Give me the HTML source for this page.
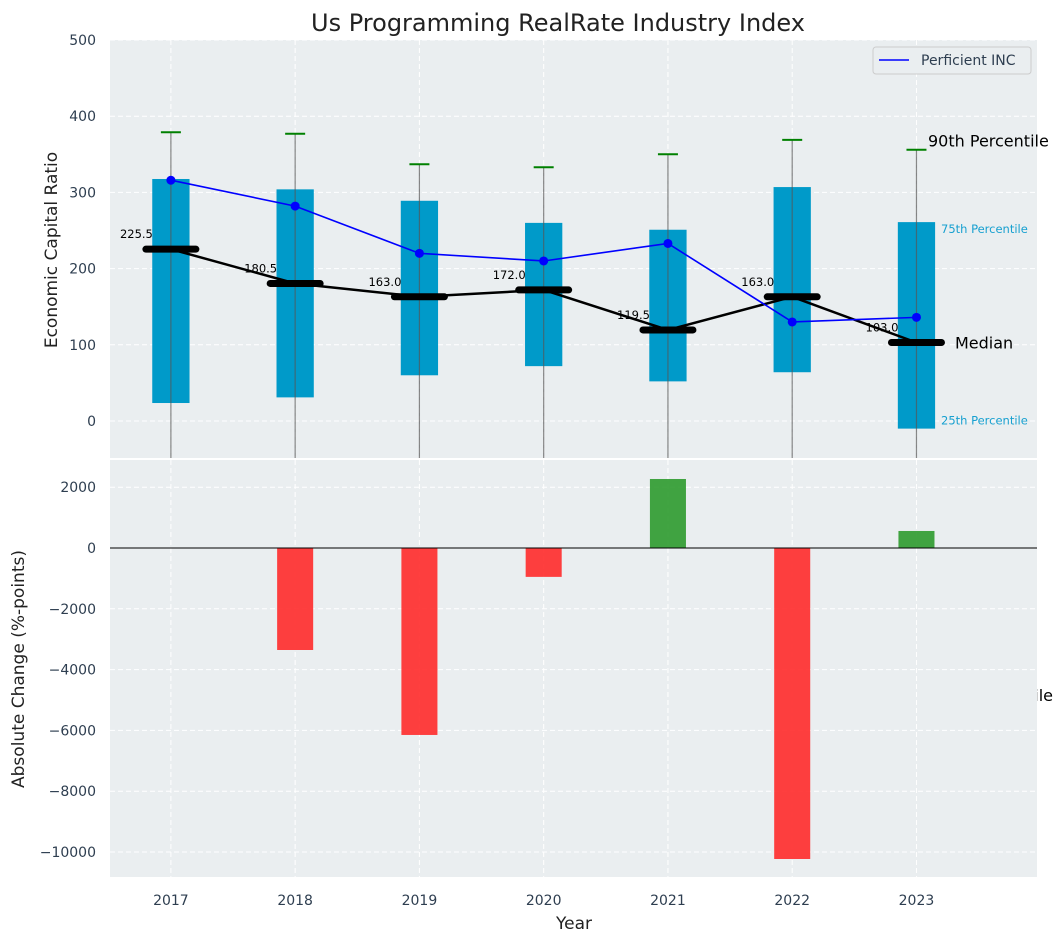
<!DOCTYPE html>
<html><head><meta charset="utf-8"><style>
body{margin:0;background:#fff;font-family:"Liberation Sans","DejaVu Sans",sans-serif}
svg{display:block}
text{font-family:"DejaVu Sans","Liberation Sans",sans-serif}
</style></head><body>
<svg id="c" width="1063" height="942"></svg>
<script>
const years=[2017,2018,2019,2020,2021,2022,2023];
const q25=[23.6,31,60,72,52,64,-10];
const q75=[317.6,304,289,260,251,307,261];
const p90=[379,377,337,333,350,369,356];
const p10=[-120,-120,-120,-120,-120,-120,-120];
const medians=[225.5,180.5,163.0,172.0,119.5,163.0,103.0];
const perficient=[316,282,220,210,233,130,136];
const changes=[0,-3355,-6150,-950,2270,-10230,560];
const topTicks=[0,100,200,300,400,500];
const botTicks=[2000,0,-2000,-4000,-6000,-8000,-10000];

const NS='http://www.w3.org/2000/svg';
const svg=document.getElementById('c');
function el(t,a,p){const e=document.createElementNS(NS,t);for(const k in a)e.setAttribute(k,a[k]);(p||svg).appendChild(e);return e;}
const L=110,R=1037;
const x=v=>L+(v-2016.51)/(2023.97-2016.51)*(R-L);
const T0=40,T1=458;const yt=v=>421-v*0.762;
const B0=460,B1=877;const yb=v=>548-v*0.0304;

const defs=el('defs',{});
const cp1=el('clipPath',{id:'ct'},defs);el('rect',{x:L,y:T0,width:R-L,height:T1-T0},cp1);
const cp2=el('clipPath',{id:'cr'},defs);el('rect',{x:R,y:0,width:100,height:942},cp2);

let r=el('rect',{x:L,y:T0,width:R-L,height:T1-T0,fill:'#eaeef0'});

r=el('rect',{x:L,y:B0,width:R-L,height:B1-B0,fill:'#eaeef0'});


years.forEach(yr=>{
  el('line',{x1:x(yr),x2:x(yr),y1:T0,y2:T1,stroke:'#fff','stroke-dasharray':'5,3','stroke-width':1});
  el('line',{x1:x(yr),x2:x(yr),y1:B0,y2:B1,stroke:'#fff','stroke-dasharray':'5,3','stroke-width':1});
  const t=el('text',{x:x(yr),y:905,'text-anchor':'middle','font-size':14,fill:'#2e3e50'});t.textContent=yr;
  
});
topTicks.forEach(v=>{
  el('line',{x1:L,x2:R,y1:yt(v),y2:yt(v),stroke:'#fff','stroke-dasharray':'5,3'});
  const t=el('text',{x:96,y:yt(v)+5,'text-anchor':'end','font-size':14,fill:'#2e3e50'});t.textContent=v;
  
});
botTicks.forEach(v=>{
  el('line',{x1:L,x2:R,y1:yb(v),y2:yb(v),stroke:'#fff','stroke-dasharray':'5,3'});
  const t=el('text',{x:96,y:yb(v)+5,'text-anchor':'end','font-size':14,fill:'#2e3e50'});t.textContent=(v<0?'\u2212'+(-v):v);
  
});

const gt=el('g',{'clip-path':'url(#ct)'});
const hw=(x(2017.15)-x(2017));
years.forEach((yr,i)=>{
  const b=el('rect',{x:x(yr)-hw,y:yt(q75[i]),width:2*hw,height:yt(q25[i])-yt(q75[i]),fill:'#009ac9'},gt);
  
  el('line',{x1:x(yr),x2:x(yr),y1:yt(p90[i]),y2:yt(p10[i]),stroke:'#555','stroke-opacity':0.7,'stroke-width':1.2},gt);
  const w=el('line',{x1:x(yr)-10,x2:x(yr)+10,y1:yt(p90[i]),y2:yt(p90[i]),stroke:'#008000','stroke-width':2},gt);
  
});
let pts=years.map((yr,i)=>x(yr)+','+yt(medians[i])).join(' ');
let pl=el('polyline',{points:pts,fill:'none',stroke:'#000','stroke-width':2.5},gt);

years.forEach((yr,i)=>{
  const m=el('line',{x1:x(yr)-25,x2:x(yr)+25,y1:yt(medians[i]),y2:yt(medians[i]),stroke:'#000','stroke-width':7,'stroke-linecap':'round'},gt);
  
  const t=el('text',{x:x(yr)-18,y:yt(medians[i])-11,'text-anchor':'end','font-size':11.5,fill:'#000'},gt);t.textContent=medians[i].toFixed(1);
  
});
pts=years.map((yr,i)=>x(yr)+','+yt(perficient[i])).join(' ');
pl=el('polyline',{points:pts,fill:'none',stroke:'#0000ff','stroke-width':1.6},gt);

years.forEach((yr,i)=>{const c=el('circle',{cx:x(yr),cy:yt(perficient[i]),r:4.5,fill:'#0000ff'},gt);
  });

const last=years.length-1;
function ann(txt,xx,yy,fs,col,nm){const t=el('text',{x:xx,y:yy,'font-size':fs,fill:col});t.textContent=txt;return t;}
ann('90th Percentile',928,yt(p90[last])-3,16,'#000','label-90th');
ann('75th Percentile',941,yt(q75[last])+11,11.5,'#17a0d0','label-75th');
ann('25th Percentile',941,yt(q25[last])-4,11.5,'#17a0d0','label-25th');
ann('Median',955,yt(medians[last])+6,16,'#000','label-median');
const cg=el('g',{'clip-path':'url(#cr)'});
const t10=el('text',{x:1053,y:701,'font-size':16,fill:'#000','text-anchor':'end'},cg);t10.textContent='10th Percentile';


const lg=el('g',{});
el('rect',{x:873,y:47,width:158,height:27,rx:3,fill:'#eaeef0',stroke:'#ccc'},lg);
el('line',{x1:879,x2:909,y1:60,y2:60,stroke:'#0000ff','stroke-width':1.6},lg);
const lt=el('text',{x:921,y:65,'font-size':14,fill:'#2e3e50'},lg);lt.textContent='Perficient INC';

const bw=x(2017.145)-x(2017);
years.forEach((yr,i)=>{
  const v=changes[i];
  const b=el('rect',{x:x(yr)-bw,y:Math.min(yb(v),yb(0)),width:2*bw,height:Math.abs(yb(v)-yb(0)),fill:v>=0?'#2e9a2e':'#ff2a2a','fill-opacity':0.9});
  
});
el('line',{x1:L,x2:R,y1:yb(0),y2:yb(0),stroke:'#000','stroke-width':1});

let t=el('text',{x:558,y:31,'text-anchor':'middle','font-size':24,fill:'#222'});t.textContent='Us Programming RealRate Industry Index';

t=el('text',{x:574,y:929,'text-anchor':'middle','font-size':17,fill:'#222'});t.textContent='Year';

t=el('text',{x:0,y:0,'text-anchor':'middle','font-size':17,fill:'#222',transform:'translate(57,250) rotate(-90)'});t.textContent='Economic Capital Ratio';

t=el('text',{x:0,y:0,'text-anchor':'middle','font-size':17,fill:'#222',transform:'translate(24,669) rotate(-90)'});t.textContent='Absolute Change (%-points)';

</script>
</body></html>
